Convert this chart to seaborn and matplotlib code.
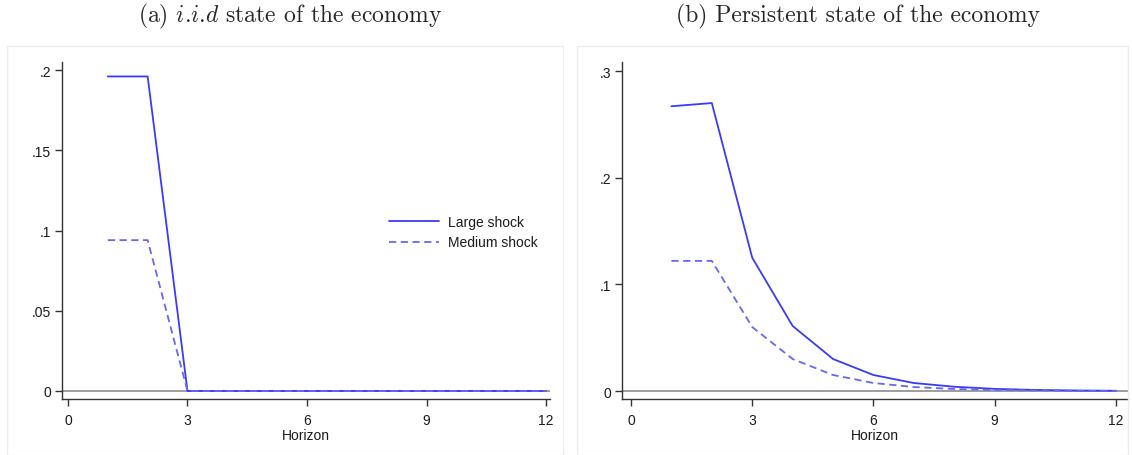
import numpy as np
import pandas as pd
import seaborn as sns
import matplotlib.pyplot as plt
from matplotlib.patches import Rectangle

horizon = list(range(1, 13))

# (a) iid state
iid_large = [0.196, 0.196, 0, 0, 0, 0, 0, 0, 0, 0, 0, 0]
iid_medium = [0.094, 0.094, 0, 0, 0, 0, 0, 0, 0, 0, 0, 0]

# (b) persistent state
pers_large = [0.267, 0.270, 0.125, 0.061, 0.030, 0.015, 0.0075, 0.004, 0.002, 0.001, 0.0005, 0.0002]
pers_medium = [0.122, 0.122, 0.060, 0.030, 0.015, 0.0075, 0.0037, 0.0019, 0.001, 0.0005, 0.0002, 0.0001]

labels = ["Large shock", "Medium shock"]
titles = [r"(a) $i$.$i$.$d$ state of the economy", "(b) Persistent state of the economy"]

sns.set_style("white")
plt.rcParams["font.family"] = ["Liberation Sans", "DejaVu Sans"]
plt.rcParams["mathtext.fontset"] = "cm"

def long_df(large, medium):
    return pd.DataFrame({
        "Horizon": horizon * 2,
        "value": large + medium,
        "shock": [labels[0]] * 12 + [labels[1]] * 12,
    })

def fmt(v):
    s = ("%g" % v)
    if s.startswith("0."):
        s = s[1:]
    return s

fig = plt.figure(figsize=(11.32, 4.56), dpi=100)

# faint panel frames
for x0, w in [(7, 556), (577, 551)]:
    fig.patches.append(Rectangle((x0 / 1132, 0), w / 1132, (456 - 47) / 456,
                                 transform=fig.transFigure, fill=False,
                                 ec="#ececec", lw=1))

palette = {labels[0]: "#3a3af8", labels[1]: "#6767f6"}
dashes = {labels[0]: "", labels[1]: (4, 2.5)}

panels = [
    dict(df=long_df(iid_large, iid_medium), pos=[62 / 1132, 56 / 456, 488 / 1132, 337 / 456],
         xlim=(-0.15, 12.1), ylim=(-0.005, 0.205), yticks=[0, 0.05, 0.1, 0.15, 0.2], legend=True),
    dict(df=long_df(pers_large, pers_medium), pos=[622 / 1132, 56 / 456, 506 / 1132, 337 / 456],
         xlim=(-0.223, 12.3), ylim=(-0.0075, 0.3085), yticks=[0, 0.1, 0.2, 0.3], legend=False),
]

for i, p in enumerate(panels):
    ax = fig.add_axes(p["pos"])
    ax.axhline(0, color="#8c8c8c", lw=1.2, zorder=1)
    sns.lineplot(data=p["df"], x="Horizon", y="value", hue="shock", style="shock",
                 palette=palette, dashes=dashes, lw=1.3, ax=ax, legend=p["legend"], zorder=3)
    ax.set_xlim(*p["xlim"])
    ax.set_ylim(*p["ylim"])
    ax.set_xticks([0, 3, 6, 9, 12])
    ax.set_yticks(p["yticks"])
    ax.set_yticklabels([fmt(v) for v in p["yticks"]])
    for s in ["top", "right"]:
        ax.spines[s].set_visible(False)
    for s in ["left", "bottom"]:
        ax.spines[s].set_color("#333333")
        ax.spines[s].set_linewidth(1.0)
    ax.tick_params(axis="both", direction="out", length=5, width=1, color="#333333",
                   labelsize=10, labelcolor="#1a1a1a", left=True, bottom=True, pad=3)
    ax.tick_params(axis="x", pad=5)
    ax.set_xlabel("Horizon", fontsize=10, color="#1a1a1a", labelpad=1)
    ax.set_ylabel("")
    ax.set_facecolor("white")
    fig.text([290, 858][i] / 1132, 1 - 16 / 456, titles[i], ha="center", va="center",
             fontsize=17, family="cmr10")
    if p["legend"]:
        leg = ax.legend(loc="upper left", bbox_to_anchor=(0.655, 0.568), frameon=False,
                        borderpad=0, handlelength=3.6, handletextpad=0.7,
                        labelspacing=0.5, fontsize=10)
        for t in leg.get_texts():
            t.set_color("#1a1a1a")

fig.savefig("out.png", dpi=100)
